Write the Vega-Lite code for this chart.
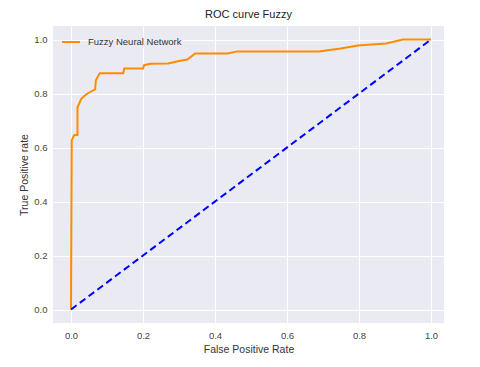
{
  "$schema": "https://vega.github.io/schema/vega-lite/v6.json",
  "autosize": "none",
  "width": 391,
  "height": 297,
  "padding": {"left": 53, "top": 26, "right": 36, "bottom": 44},
  "background": "white",
  "title": {"text": "ROC curve Fuzzy", "font": "Liberation Sans", "fontSize": 11, "fontWeight": "normal", "color": "#222222", "offset": 6},
  "config": {
    "view": {"fill": "#EAEAF2", "stroke": null},
    "axis": {
      "domain": false, "ticks": false, "grid": true, "gridColor": "white", "gridWidth": 1,
      "labelFont": "Liberation Sans", "labelFontSize": 9.5, "labelColor": "#444444",
      "titleFont": "Liberation Sans", "titleFontSize": 10.5, "titleFontWeight": "normal", "titleColor": "#333333"
    }
  },
  "datasets": {
    "roc": [
      {"step": 0, "fpr": 0.0, "tpr": 0.0},
      {"step": 1, "fpr": 0.002, "tpr": 0.627},
      {"step": 2, "fpr": 0.009, "tpr": 0.646},
      {"step": 3, "fpr": 0.018, "tpr": 0.646},
      {"step": 4, "fpr": 0.018, "tpr": 0.749},
      {"step": 5, "fpr": 0.022, "tpr": 0.76},
      {"step": 6, "fpr": 0.028, "tpr": 0.779},
      {"step": 7, "fpr": 0.036, "tpr": 0.79},
      {"step": 8, "fpr": 0.047, "tpr": 0.801},
      {"step": 9, "fpr": 0.067, "tpr": 0.815},
      {"step": 10, "fpr": 0.069, "tpr": 0.848},
      {"step": 11, "fpr": 0.072, "tpr": 0.857},
      {"step": 12, "fpr": 0.08, "tpr": 0.875},
      {"step": 13, "fpr": 0.145, "tpr": 0.875},
      {"step": 14, "fpr": 0.148, "tpr": 0.893},
      {"step": 15, "fpr": 0.2, "tpr": 0.893},
      {"step": 16, "fpr": 0.203, "tpr": 0.905},
      {"step": 17, "fpr": 0.22, "tpr": 0.91},
      {"step": 18, "fpr": 0.27, "tpr": 0.911},
      {"step": 19, "fpr": 0.3, "tpr": 0.92},
      {"step": 20, "fpr": 0.323, "tpr": 0.926},
      {"step": 21, "fpr": 0.345, "tpr": 0.948},
      {"step": 22, "fpr": 0.435, "tpr": 0.948},
      {"step": 23, "fpr": 0.462, "tpr": 0.956},
      {"step": 24, "fpr": 0.688, "tpr": 0.956},
      {"step": 25, "fpr": 0.749, "tpr": 0.967},
      {"step": 26, "fpr": 0.797, "tpr": 0.978},
      {"step": 27, "fpr": 0.875, "tpr": 0.985},
      {"step": 28, "fpr": 0.922, "tpr": 1.0},
      {"step": 29, "fpr": 1.0, "tpr": 1.0}
    ],
    "diag": [
      {"fpr": 0, "tpr": 0},
      {"fpr": 1, "tpr": 1}
    ]
  },
  "layer": [
    {
      "data": {"name": "roc"},
      "mark": {"type": "line", "strokeWidth": 2, "interpolate": "linear"},
      "encoding": {
        "x": {"field": "fpr", "type": "quantitative", "title": "False Positive Rate",
              "scale": {"domain": [-0.05, 1.036], "nice": false, "zero": false},
              "axis": {"values": [0, 0.2, 0.4, 0.6, 0.8, 1.0], "format": ".1f", "labelPadding": 7, "titlePadding": 5}},
        "y": {"field": "tpr", "type": "quantitative", "title": "True Positive rate",
              "scale": {"domain": [-0.05, 1.05], "nice": false, "zero": false},
              "axis": {"values": [0, 0.2, 0.4, 0.6, 0.8, 1.0], "format": ".1f", "labelPadding": 6, "titlePadding": 4}},
        "order": {"field": "step", "type": "quantitative"},
        "color": {"datum": "Fuzzy Neural Network", "type": "nominal",
                  "scale": {"domain": ["Fuzzy Neural Network"], "range": ["#FF8C00"]},
                  "legend": {"title": null, "orient": "none", "legendX": 8, "legendY": 6,
                             "symbolType": "stroke", "symbolSize": 324, "symbolStrokeWidth": 2,
                             "labelFont": "Liberation Sans", "labelFontSize": 9.5, "labelColor": "#333333", "labelOffset": 7}}
      }
    },
    {
      "data": {"name": "diag"},
      "mark": {"type": "line", "color": "#0000FF", "strokeWidth": 2, "strokeDash": [7, 4]},
      "encoding": {
        "x": {"field": "fpr", "type": "quantitative"},
        "y": {"field": "tpr", "type": "quantitative"}
      }
    }
  ]
}
